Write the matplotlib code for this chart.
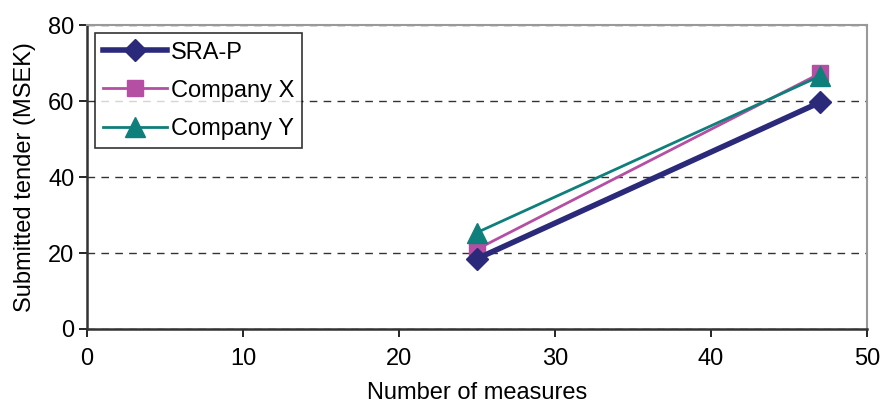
import matplotlib
matplotlib.use("Agg")
import matplotlib.pyplot as plt

plt.rcParams['font.family'] = ['Liberation Sans', 'DejaVu Sans']

# values
measures = [25, 47]
sra_p = [18.5, 59.7]
company_x = [21.0, 67.3]
company_y = [25.4, 66.6]

fig = plt.figure(figsize=(8.82, 4.12), dpi=100)
ax = fig.add_axes([0.0986, 0.2015, 0.8844, 0.7375])

ax.plot(measures, sra_p, color='#2b2a7a', linewidth=4, marker='D',
        markersize=11, label='SRA-P', zorder=4)
ax.plot(measures, company_x, color='#b44fa3', linewidth=2, marker='s',
        markersize=11, label='Company X', zorder=3)
ax.plot(measures, company_y, color='#0f7f7b', linewidth=2, marker='^',
        markersize=14, label='Company Y', zorder=5)

ax.set_xlim(0, 50)
ax.set_ylim(0, 80)
ax.set_xticks(range(0, 51, 10))
ax.set_yticks(range(0, 81, 20))
ax.yaxis.grid(True, linestyle=(0, (5.5, 4.5)), color='#333333', linewidth=1)
ax.set_axisbelow(True)

for side in ['top', 'right']:
    ax.spines[side].set_color('#999999')
    ax.spines[side].set_linewidth(1.5)
for side in ['left', 'bottom']:
    ax.spines[side].set_color('#333333')
    ax.spines[side].set_linewidth(1.8)

ax.tick_params(direction='out', length=6, width=1.2, labelsize=17)
ax.tick_params(axis='x', pad=8)
ax.tick_params(axis='y', pad=3)
ax.set_xlabel('Number of measures', fontsize=17, labelpad=8)
ax.set_ylabel('Submitted tender (MSEK)', fontsize=17, labelpad=9)

leg = ax.legend(loc='upper left', fontsize=17, frameon=True, fancybox=False,
                edgecolor='black', borderaxespad=0.35, handlelength=2.7,
                labelspacing=0.68, handletextpad=0.15, borderpad=0.35)
leg.get_frame().set_linewidth(1.2)

fig.savefig('out.png', dpi=100)
